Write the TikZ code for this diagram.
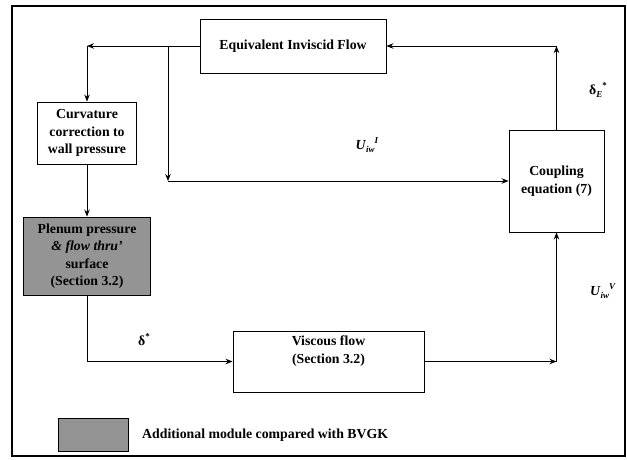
\documentclass[tikz,border=0pt]{standalone}
\usepackage{fontspec}
\setmainfont{Liberation Serif}
\usetikzlibrary{arrows.meta}
\newcommand{\lsub}[1]{\raisebox{-3pt}{\fontsize{9}{9}\selectfont #1}}
\newcommand{\lsup}[1]{\raisebox{6pt}{\fontsize{9}{9}\selectfont #1}}
\tikzset{
  box/.style={draw=black, line width=0.9pt, inner sep=0pt, align=center,
    font=\fontsize{13.8}{17.5}\selectfont\bfseries},
  graybox/.style={box, fill=black!42},
  lbl/.style={inner sep=0pt, font=\fontsize{13.8}{16}\selectfont\bfseries},
  conn/.style={line width=0.9pt},
  arr/.style={conn, -{Stealth[length=7pt,width=5.5pt]}},
}
\begin{document}
\begin{tikzpicture}[x=1pt,y=-1pt]
\useasboundingbox (0,0) rectangle (627,460);
\draw[line width=1.5pt] (12,6) rectangle (625,456);
% boxes
\node[box, minimum width=186pt, minimum height=54pt] (eq) at (293,46) {Equivalent Inviscid Flow};
\node[box, minimum width=99pt, minimum height=62pt] (curv) at (87,133) {Curvature\\correction to\\wall pressure};
\node[graybox, minimum width=127pt, minimum height=78pt] (plen) at (87,256) {Plenum pressure\\\textit{\& flow thru'}\\surface\\(Section 3.2)};
\node[box, minimum width=191pt, minimum height=61pt] (visc) at (328.5,361.5) {};
\node[box, inner sep=0pt, draw=none] (vtxt) at (328.5,351) {Viscous flow\\(Section 3.2)};
\node[box, minimum width=95pt, minimum height=102pt] (coup) at (556.5,181) {Coupling\\equation (7)};
% corner coordinates
\coordinate (c1) at (87,46);
\coordinate (c2) at (168,181);
\coordinate (c3) at (556.5,46);
\coordinate (c4) at (87,361.5);
\coordinate (c5) at (556.5,361.5);
\coordinate (b1) at (168,46);
% connectors
\draw[arr] (eq.west) -- (c1);
\draw[arr] (c1) -- (curv.north);
\draw[arr] (curv.south) -- (plen.north);
\draw[arr] (b1) -- (c2);
\draw[arr] (c2) -- (coup.west);
\draw[arr] (coup.north) -- (c3);
\draw[arr] (c3) -- (eq.east);
\draw[conn] (plen.south) -- (c4);
\draw[arr] (c4) -- (visc.west);
\draw[arr] (visc.east) -- (c5);
\draw[arr] (c5) -- (coup.south);
% labels
\node[lbl] (lUI) at (367,145) {\textit{U}\lsub{\textit{iw}}\lsup{\textit{I}}};
\node[lbl] (lDE) at (598,90) {δ\lsub{\textit{E}}\lsup{*}};
\node[lbl] (lUV) at (603,291) {\textit{U}\lsub{\textit{iw}}\lsup{\textit{V}}};
\node[lbl] (lD) at (144,340) {δ\lsup{*}};
% legend
\node[graybox, minimum width=70pt, minimum height=33pt] (leg) at (93,434.5) {};
\node[lbl, anchor=west] (legt) at (142,435) {Additional module compared with BVGK};
\end{tikzpicture}
\end{document}
